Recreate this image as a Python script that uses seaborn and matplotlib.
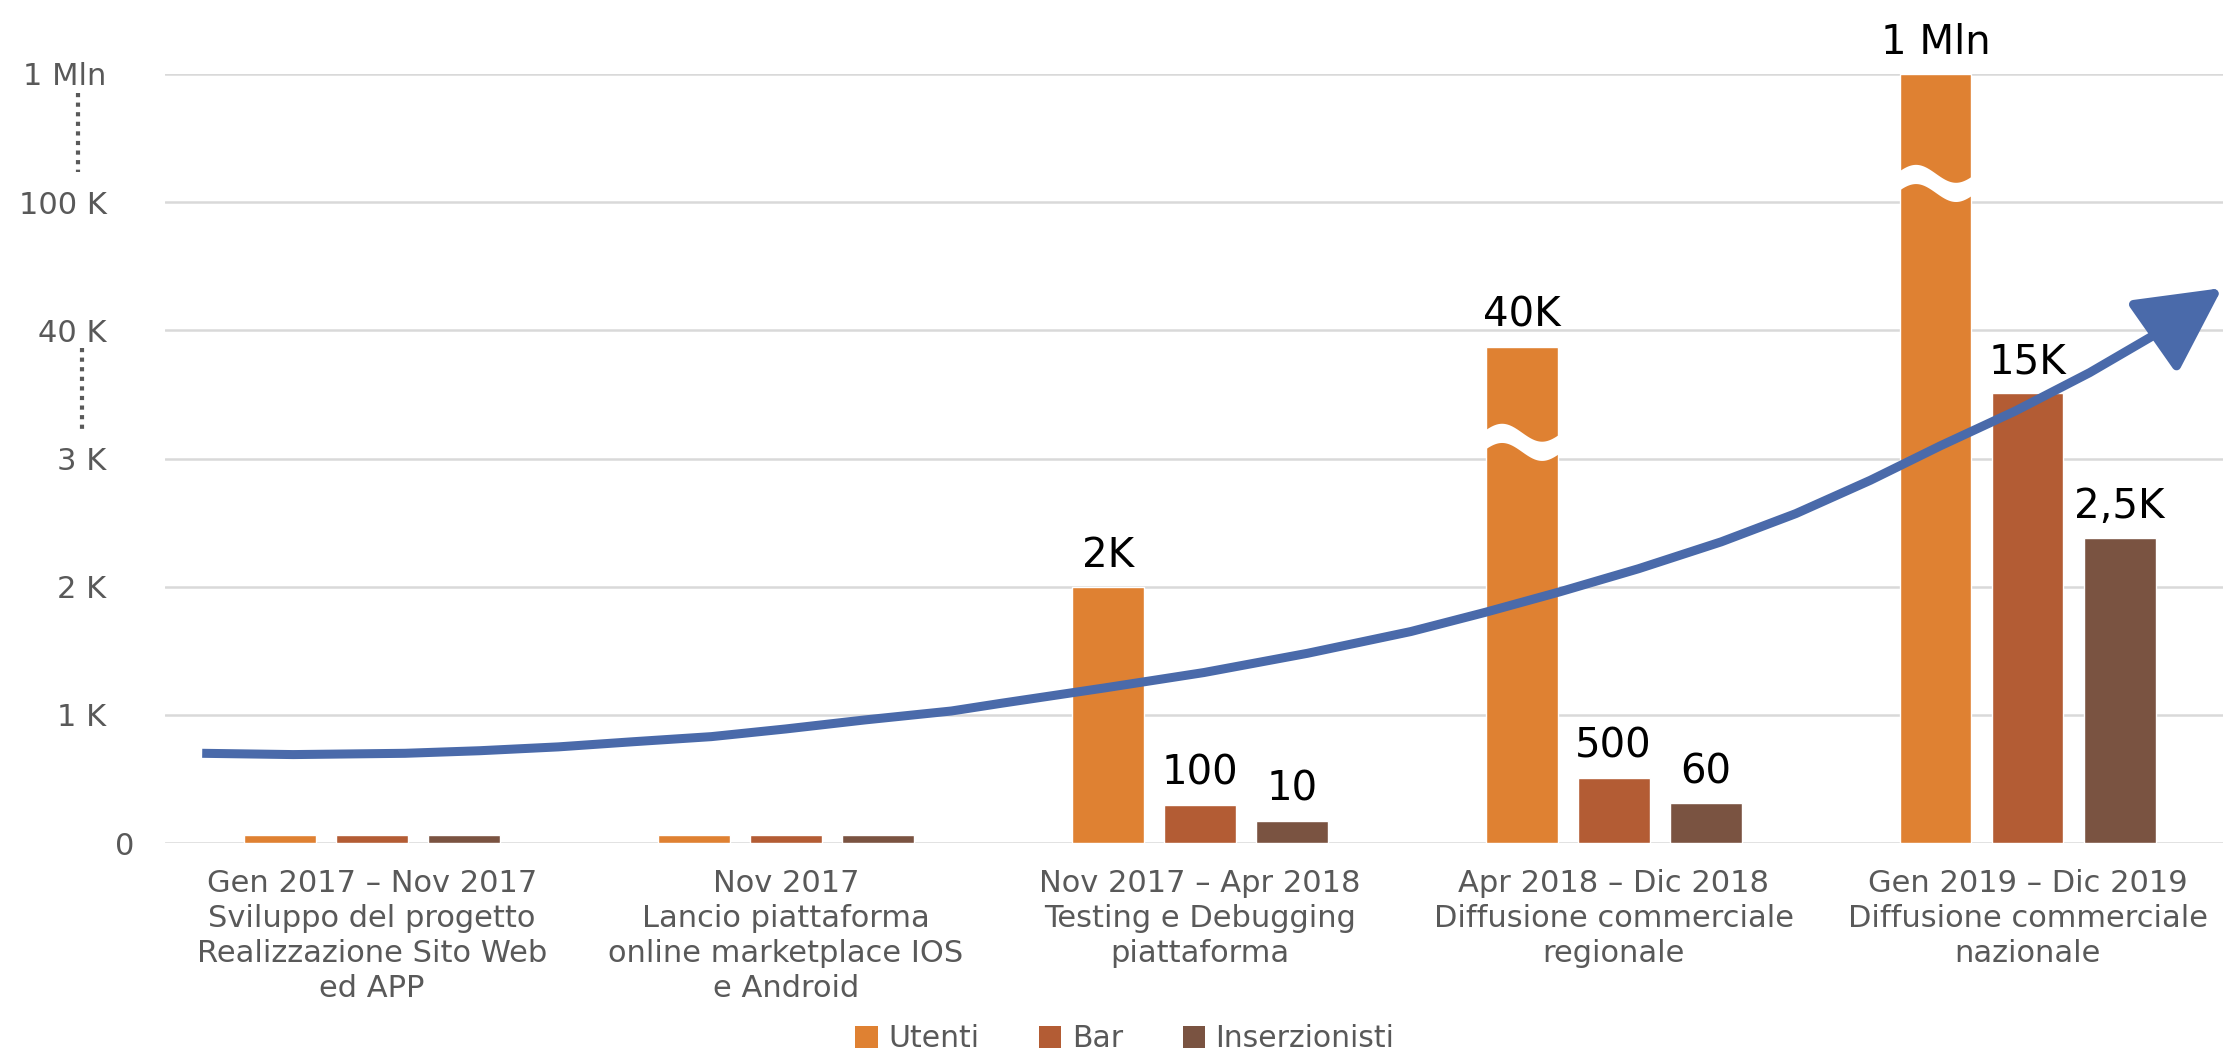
import numpy as np
import pandas as pd
import matplotlib.pyplot as plt
import matplotlib.transforms as mtransforms
import seaborn as sns
from matplotlib.lines import Line2D
from matplotlib.patches import Patch

# Fasi del progetto (asse x)
fasi = [
    'Gen 2017 – Nov 2017\nSviluppo del progetto\nRealizzazione Sito Web\ned APP',
    'Nov 2017\nLancio piattaforma\nonline marketplace IOS\ne Android',
    'Nov 2017 – Apr 2018\nTesting e Debugging\npiattaforma',
    'Apr 2018 – Dic 2018\nDiffusione commerciale\nregionale',
    'Gen 2019 – Dic 2019\nDiffusione commerciale\nnazionale',
]
serie = ['Utenti', 'Bar', 'Inserzionisti']
colori = ['#DF8132', '#B35C34', '#7A5341']

utenti = [0.06, 0.06, 2.0, 3.87, 6.0]
bar_locali = [0.06, 0.06, 0.30, 0.51, 3.51]
inserzionisti = [0.06, 0.06, 0.175, 0.31, 2.38]

etichette_utenti = ['', '', '2K', '40K', '1 Mln']
etichette_bar = ['', '', '100', '500', '15K']
etichette_inserzionisti = ['', '', '10', '60', '2,5K']

# dove le barre degli utenti sono interrotte
interruzioni_utenti = [None, None, None, 3.13, 5.15]

# scala asse y
tick_valori = [0, 1, 2, 3, 4, 5, 6]
tick_etichette = ['0', '1 K', '2 K', '3 K', '40 K', '100 K', '1 Mln']

# freccia di crescita
trend_x = [-0.41, -0.19, 0.08, 0.26, 0.45, 0.63, 0.82, 1.00, 1.19, 1.40, 1.52, 1.77, 2.01,
           2.26, 2.51, 2.69, 2.87, 3.06, 3.26, 3.44, 3.62, 3.79, 3.97, 4.15, 4.32]
trend_y = [0.70, 0.69, 0.70, 0.72, 0.75, 0.79, 0.83, 0.89, 0.96, 1.03, 1.09, 1.21, 1.33,
           1.48, 1.65, 1.80, 1.96, 2.14, 2.35, 2.57, 2.83, 3.10, 3.37, 3.67, 3.99]
trend_punta = (4.47, 4.33)

df = pd.DataFrame({
    'fase': fasi * 3,
    'serie': np.repeat(serie, len(fasi)),
    'valore': utenti + bar_locali + inserzionisti,
})

sns.set_theme(style='white')
plt.rcParams['font.family'] = ['DejaVu Sans']

fig = plt.figure(figsize=(22.23, 10.60), dpi=100)
ax = fig.add_axes([0.0742, 0.2047, 0.931, 0.7255])

sns.barplot(data=df, x='fase', y='valore', hue='serie', palette=colori,
            width=0.667, gap=0.22, saturation=1, legend=False, ax=ax, zorder=2)

# etichette valori
tutte_etichette = [etichette_utenti, etichette_bar, etichette_inserzionisti]
for cont, etichette in zip(ax.containers, tutte_etichette):
    for rect, testo in zip(cont.patches, etichette):
        if testo:
            ax.annotate(testo, (rect.get_x() + rect.get_width() / 2, rect.get_height()),
                        xytext=(0, 8), textcoords='offset points', ha='center', va='bottom',
                        fontsize=29, color='black', annotation_clip=False)

# interruzioni ondulate sulle barre alte
t = np.linspace(0, 1, 80)
for rect, yc in zip(ax.containers[0].patches, interruzioni_utenti):
    if yc is None:
        continue
    x0, w = rect.get_x(), rect.get_width()
    xs = x0 - 0.01 + (w + 0.02) * t
    onda = yc + 0.07 * np.sin(2 * np.pi * t)
    ax.fill_between(xs, onda - 0.075, onda + 0.075, color='white', zorder=3, lw=0)

# freccia di crescita
ax.plot(trend_x, trend_y, color='#4A6AAA', lw=6.5, zorder=4, solid_capstyle='butt',
        solid_joinstyle='round')
ax.annotate('', xy=trend_punta, xytext=(trend_x[-1], trend_y[-1]),
            arrowprops=dict(arrowstyle='-|>,head_length=0.52,head_width=0.27',
                            mutation_scale=100, color='#4A6AAA', lw=6.5,
                            shrinkA=0, shrinkB=0),
            zorder=4, annotation_clip=False)

ax.set_xlim(-0.5, 4.5)
ax.set_ylim(0, 6)
ax.set_yticks(tick_valori)
ax.set_yticklabels(tick_etichette)
ax.set_xlabel('')
ax.set_ylabel('')
ax.yaxis.grid(True, color='#D9D9D9', lw=1.8, zorder=0)
ax.set_axisbelow(True)
for s in ax.spines.values():
    s.set_visible(False)
ax.tick_params(axis='both', length=0)
ax.tick_params(axis='x', pad=19, labelsize=22, labelcolor='#595959')
ax.tick_params(axis='y', pad=42, labelsize=22, labelcolor='#595959')
for lab in ax.get_xticklabels():
    lab.set_linespacing(1.25)
# lo "0" e leggermente piu a destra
zero = ax.get_yticklabels()[0]
zero.set_transform(zero.get_transform() + mtransforms.ScaledTranslation(20 / 72, 0, fig.dpi_scale_trans))

# puntini tra le etichette della scala spezzata
fig.add_artist(Line2D([0.035, 0.035], [1 - 93 / 1060, 1 - 172 / 1060], transform=fig.transFigure,
                      color='#595959', lw=3, linestyle=(0, (1, 1.3))))
fig.add_artist(Line2D([0.037, 0.037], [1 - 348 / 1060, 1 - 432 / 1060], transform=fig.transFigure,
                      color='#595959', lw=3, linestyle=(0, (1, 1.3))))

maniglie = [Patch(facecolor=c, edgecolor='none', label=s) for c, s in zip(colori, serie)]
leg = ax.legend(handles=maniglie, loc='center', bbox_to_anchor=(0.506, 0.02),
                bbox_transform=fig.transFigure, ncol=3, frameon=False, fontsize=21.5,
                handlelength=0.75, handleheight=0.75, handletextpad=0.35, columnspacing=2.0)
for txt in leg.get_texts():
    txt.set_color('#595959')

fig.savefig('out.png', dpi=100)
